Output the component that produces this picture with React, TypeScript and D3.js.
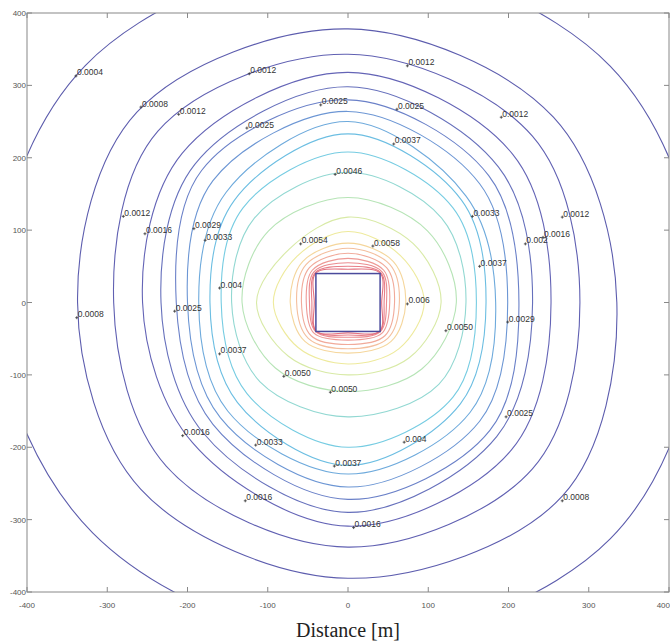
import React from "react";
import * as d3 from "d3";

// contour levels (concentration) and the colours of the lines
const levels = [0.0004, 0.0008, 0.0012, 0.0016, 0.0021, 0.0025, 0.0029, 0.0033, 0.0037, 0.0041, 0.0046, 0.005, 0.0054, 0.0058, 0.0062, 0.0066, 0.007, 0.0074, 0.0078, 0.0083, 0.0087];
const lineColors = ["#5c5cac", "#5d5dae", "#6060b2", "#6464b6", "#6670bc", "#6a80c8", "#6c96d4", "#6eaadc", "#6cbee2", "#76cce2", "#92d8d2", "#b6e4b6", "#d8eaa6", "#eeea9c", "#f5d69c", "#f4bf9e", "#f1aa9a", "#ee9a96", "#eb8c90", "#e77e88", "#e37280"];

// distance [m] of each contour from the source, along 8 directions (E, NE, N, NW, W, SW, S, SE)
const rE = [440, 335, 289, 253, 230, 213, 199, 184, 172, 160, 147, 135, 116, 95, 72, 64, 58, 52, 48, 45, 42];
const rNE = [462, 362, 325, 290, 265, 248, 232, 208, 200, 185, 165, 140, 115, 92, 80, 74, 68, 63, 60, 58, 57];
const rN = [478, 378, 343, 318, 298, 280, 264, 250, 233, 208, 180, 145, 118, 98, 82, 75, 68, 61, 55, 50, 46];
const rNW = [463, 372, 335, 292, 270, 258, 238, 215, 200, 185, 165, 140, 104, 90, 80, 74, 68, 63, 60, 58, 57];
const rW = [440, 337, 292, 256, 233, 214, 200, 186, 172, 158, 145, 132, 114, 93, 72, 64, 58, 52, 48, 45, 42];
const rSW = [450, 365, 320, 274, 255, 238, 225, 212, 195, 178, 155, 128, 105, 88, 76, 70, 65, 60, 57, 56, 56];
const rS = [470, 381, 338, 309, 290, 272, 255, 237, 225, 200, 158, 123, 100, 85, 70, 64, 58, 52, 48, 45, 42];
const rSE = [462, 378, 325, 288, 262, 250, 232, 215, 198, 185, 160, 130, 108, 90, 76, 70, 65, 60, 57, 56, 56];

// source building footprint [m]
const building = [-40, 40];

// contour labels: text and position [m]
const labelText = ["0.0004", "0.0008", "0.0012", "0.0012", "0.0012", "0.0012", "0.0025", "0.0025", "0.0025", "0.0037", "0.0046", "0.0012", "0.0016", "0.0029", "0.0033", "0.0054", "0.0058", "0.0033", "0.002", "0.0016", "0.0012", "0.0037", "0.004", "0.006", "0.0008", "0.0025", "0.0050", "0.0029", "0.0037", "0.0050", "0.0050", "0.0025", "0.0016", "0.0033", "0.004", "0.0037", "0.0016", "0.0008", "0.0016"];
const labelX = [-339, -258, -211, -123, 74, 191, -34, 61, -126, 57, -16, -280, -253, -192, -178, -59, 31, 155, 221, 243, 267, 164, -160, 74, -338, -216, 122, 199, -160, -80, -22, 197, -206, -115, 70, -17, -128, 267, 7];
const labelY = [313, 270, 260, 316, 327, 256, 273, 267, 241, 219, 177, 119, 95, 102, 86, 81, 78, 119, 81, 90, 118, 50, 20, -2, -21, -12, -39, -27, -71, -102, -124, -158, -184, -197, -193, -226, -274, -274, -311];

const ticks = [-400, -300, -200, -100, 0, 100, 200, 300, 400];

const W = 670, H = 644;
const left = 27, right = 669, top = 13, bottom = 592;

export default function App() {
  const x = d3.scaleLinear().domain([-400, 400]).range([left, right]);
  const y = d3.scaleLinear().domain([-400, 400]).range([bottom, top]);

  const dirs = [rE, rNE, rN, rNW, rW, rSW, rS, rSE];
  const line = d3.line<[number, number]>()
    .x((d) => x(d[0]))
    .y((d) => y(d[1]))
    .curve(d3.curveCatmullRomClosed.alpha(0.5));

  const contours = levels.map((lev, i) => {
    const pts = dirs.map((r, k) => {
      const a = (k * Math.PI) / 4;
      return [r[i] * Math.cos(a), r[i] * Math.sin(a)] as [number, number];
    });
    return { lev, color: lineColors[i], d: line(pts) };
  });

  const font = "'Liberation Sans', Arial, sans-serif";

  return (
    <svg width={W} height={H} style={{ position: "absolute", left: 0, top: 0, background: "#fff" }}>
      <defs>
        <clipPath id="plot">
          <rect x={left} y={top} width={right - left} height={bottom - top} />
        </clipPath>
      </defs>
      <g clipPath="url(#plot)">
        {contours.map((c) => (
          <path key={c.lev} d={c.d || ""} fill="none" stroke={c.color} strokeWidth={1.1} />
        ))}
        <rect
          x={x(building[0])}
          y={y(building[1])}
          width={x(building[1]) - x(building[0])}
          height={y(building[0]) - y(building[1])}
          fill="#fff"
          stroke="#4a4a9c"
          strokeWidth={1.5}
        />
      </g>

      {labelText.map((t, i) => {
        const px = x(labelX[i]), py = y(labelY[i]);
        return (
          <g key={i}>
            <path d={`M${px - 1.5},${py}h3M${px},${py - 1.5}v3`} stroke="#333" strokeWidth={0.8} />
            <text x={px + 1} y={py - 0.5} fontSize={8.5} fontFamily={font} fill="#333">{t}</text>
          </g>
        );
      })}

      {/* frame */}
      <rect x={left} y={top} width={right - left} height={bottom - top} fill="none" stroke="#888" strokeWidth={1} />
      {ticks.map((t, i) => (
        <g key={"x" + t}>
          <line x1={x(t)} x2={x(t)} y1={bottom} y2={bottom - 5} stroke="#888" />
          <line x1={x(t)} x2={x(t)} y1={top} y2={top + 5} stroke="#888" />
          <text
            x={i === ticks.length - 1 ? W : x(t)}
            y={608}
            fontSize={8}
            fontFamily={font}
            fill="#555"
            textAnchor={i === ticks.length - 1 ? "end" : "middle"}
          >
            {t}
          </text>
        </g>
      ))}
      {ticks.map((t) => (
        <g key={"y" + t}>
          <line x1={left} x2={left + 5} y1={y(t)} y2={y(t)} stroke="#888" />
          <line x1={right} x2={right - 5} y1={y(t)} y2={y(t)} stroke="#888" />
          <text x={left - 1} y={y(t) + 3} fontSize={8} fontFamily={font} fill="#555" textAnchor="end">{t}</text>
        </g>
      ))}
      <text x={x(0)} y={637} fontSize={20} fontFamily="'Liberation Serif', 'Times New Roman', serif" fill="#222" textAnchor="middle">
        Distance [m]
      </text>
    </svg>
  );
}
